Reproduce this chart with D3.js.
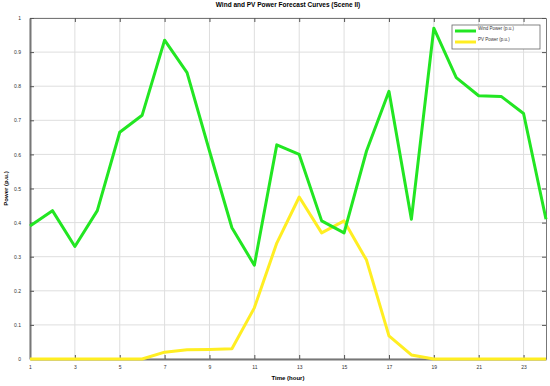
<!DOCTYPE html>
<html>
<head>
<meta charset="utf-8">
<script src="https://cdn.jsdelivr.net/npm/d3@7"></script>
<style>
  body { margin: 0; background: #fff; }
  svg { display: block; font-family: "Liberation Sans", Arial, sans-serif; }
</style>
</head>
<body>
<div id="chart"></div>
<script>
// chart data
var hours = d3.range(1, 25);
var windPower = [0.39, 0.435, 0.33, 0.435, 0.665, 0.715, 0.935, 0.84, 0.61, 0.385, 0.275, 0.628,
                 0.60, 0.405, 0.37, 0.61, 0.785, 0.41, 0.97, 0.825, 0.772, 0.77, 0.72, 0.41];
var pvPower = [0, 0, 0, 0, 0, 0, 0.02, 0.027, 0.028, 0.03, 0.15, 0.34,
               0.475, 0.37, 0.405, 0.29, 0.068, 0.012, 0, 0, 0, 0, 0, 0];
var xTicks = [1, 3, 5, 7, 9, 11, 13, 15, 17, 19, 21, 23];
var yTicks = [0, 0.1, 0.2, 0.3, 0.4, 0.5, 0.6, 0.7, 0.8, 0.9, 1];
var seriesNames = ["Wind Power (p.u.)", "PV Power (p.u.)"];
var seriesColors = ["#22e622", "#ffee22"];

var width = 550, height = 386;
var margin = {top: 18, right: 4, bottom: 27, left: 30};
var w = width - margin.left - margin.right,
    h = height - margin.top - margin.bottom;

var svg = d3.select("#chart").append("svg")
    .attr("width", width)
    .attr("height", height);

var g = svg.append("g")
    .attr("transform", "translate(" + margin.left + "," + margin.top + ")");

var x = d3.scaleLinear().domain([1, 24]).range([0, w]);
var y = d3.scaleLinear().domain([0, 1]).range([h, 0]);

// grid
g.selectAll(".vgrid")
  .data(xTicks)
  .enter().append("line")
    .attr("x1", d => x(d)).attr("x2", d => x(d))
    .attr("y1", 0).attr("y2", h)
    .attr("stroke", "#dedede").attr("stroke-width", 1);

g.selectAll(".hgrid")
  .data(yTicks)
  .enter().append("line")
    .attr("x1", 0).attr("x2", w)
    .attr("y1", d => y(d)).attr("y2", d => y(d))
    .attr("stroke", "#dedede").attr("stroke-width", 1);

// axes, matlab style with inward ticks
var xAxis = g.append("g")
    .attr("transform", "translate(0," + h + ")")
    .call(d3.axisBottom(x).tickValues(xTicks).tickSizeInner(-4).tickSizeOuter(0).tickPadding(6).tickFormat(d3.format("d")));
var xTop = g.append("g")
    .call(d3.axisTop(x).tickValues(xTicks).tickSizeInner(-4).tickSizeOuter(0).tickFormat(""));
var yAxis = g.append("g")
    .call(d3.axisLeft(y).tickValues(yTicks).tickSizeInner(-4).tickSizeOuter(0).tickPadding(9).tickFormat(d3.format("")));
var yRight = g.append("g")
    .attr("transform", "translate(" + w + ",0)")
    .call(d3.axisRight(y).tickValues(yTicks).tickSizeInner(-4).tickSizeOuter(0).tickFormat(""));

[xAxis, xTop, yAxis, yRight].forEach(function(a){
  a.select(".domain").attr("stroke", "#777").attr("stroke-width", 1);
  a.selectAll(".tick line").attr("stroke", "#555");
  a.selectAll("text").attr("font-size", "5px").attr("fill", "#333");
});
xAxis.select(".domain").attr("stroke-width", 2);
yAxis.select(".domain").attr("stroke-width", 2);

// lines
var line = d3.line()
    .x(function(d, i){ return x(hours[i]); })
    .y(function(d){ return y(d); });

g.append("path")
  .datum(pvPower)
  .attr("d", line)
  .attr("fill", "none")
  .attr("stroke", seriesColors[1])
  .attr("stroke-width", 3)
  .attr("stroke-linejoin", "round");

g.append("path")
  .datum(windPower)
  .attr("d", line)
  .attr("fill", "none")
  .attr("stroke", seriesColors[0])
  .attr("stroke-width", 3)
  .attr("stroke-linejoin", "round");

// legend
var legend = g.append("g")
    .attr("transform", "translate(" + (w - 94) + ",7)");
legend.append("rect")
    .attr("width", 88).attr("height", 24)
    .attr("fill", "#fff").attr("stroke", "#666").attr("stroke-width", 0.8);
seriesNames.forEach(function(name, i){
  legend.append("line")
    .attr("x1", 3).attr("x2", 24)
    .attr("y1", 6 + i * 11).attr("y2", 6 + i * 11)
    .attr("stroke", seriesColors[i]).attr("stroke-width", 3);
  legend.append("text")
    .attr("x", 26).attr("y", 5 + i * 11)
    .attr("dy", "0.1em")
    .attr("font-size", "4.5px").attr("fill", "#333")
    .text(name);
});

// titles
svg.append("text")
  .attr("x", margin.left + w / 2).attr("y", 7)
  .attr("text-anchor", "middle")
  .attr("font-size", "6.5px").attr("font-weight", "bold")
  .text("Wind and PV Power Forecast Curves (Scene II)");

svg.append("text")
  .attr("x", margin.left + w / 2).attr("y", 380)
  .attr("text-anchor", "middle")
  .attr("font-size", "6px").attr("font-weight", "bold")
  .text("Time (hour)");

svg.append("text")
  .attr("transform", "translate(8," + (margin.top + h / 2) + ") rotate(-90)")
  .attr("text-anchor", "middle")
  .attr("font-size", "6px").attr("font-weight", "bold")
  .text("Power (p.u.)");
</script>
</body>
</html>
